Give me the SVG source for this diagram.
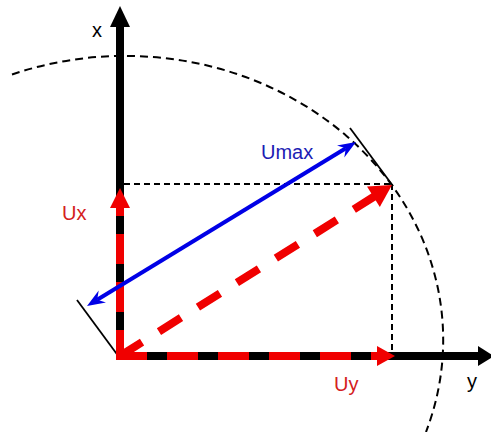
<svg xmlns="http://www.w3.org/2000/svg" width="491" height="432" viewBox="0 0 491 432">
<style>
.guide{fill:none;stroke:#000;stroke-width:2;stroke-dasharray:6 4}
.circle{fill:none;stroke:#000;stroke-width:2;stroke-dasharray:8 5}
.tan{fill:none;stroke:#000;stroke-width:1.8}
.axis{fill:none;stroke:#000;stroke-width:8}
.red{fill:none;stroke:#f00000;stroke-width:8}
.blue{fill:none;stroke:#0000e6;stroke-width:4}
.lbl{font-family:"Liberation Sans",Arial,sans-serif;font-size:20px}
</style>
<rect width="491" height="432" fill="#fff"/>
<g id="connectors">
  <g id="circle-arc">
    <path class="circle" d="M12,74.5 A318,284 0 0 1 426,432"/>
  </g>
  <g id="projections">
    <line class="guide" x1="124" y1="184" x2="392" y2="184"/>
    <line class="guide" x1="392" y1="184" x2="392" y2="352"/>
  </g>
  <g id="tangents">
    <line class="tan" x1="77" y1="300" x2="119" y2="357"/>
    <line class="tan" x1="350" y1="128" x2="393" y2="186"/>
  </g>
  <g id="axis-x">
    <line class="axis" x1="120" y1="360" x2="120" y2="25"/>
    <polygon points="120,6 130,27 110,27" fill="#000"/>
  </g>
  <g id="axis-y">
    <line class="axis" x1="116" y1="356" x2="480" y2="356"/>
    <polygon points="494,356 478,346 478,366" fill="#000"/>
  </g>
  <g id="vec-ux">
    <line class="red" x1="120" y1="360" x2="120" y2="207" stroke-dasharray="30 18"/>
    <polygon points="120,188 130,208 110,208" fill="#f00000"/>
  </g>
  <g id="vec-uy">
    <line class="red" x1="116" y1="356" x2="378" y2="356" stroke-dasharray="31 20"/>
    <polygon points="395,356 377,346 377,366" fill="#f00000"/>
  </g>
  <g id="vec-u">
    <line class="red" x1="120" y1="356" x2="375" y2="196" stroke-dasharray="26 20"/>
    <polygon points="392,185 379.8,206.9 367,186.5" fill="#f00000"/>
  </g>
  <g id="vec-umax">
    <line class="blue" x1="97.2" y1="299.7" x2="345.8" y2="148.3"/>
    <polygon points="356,142 344.3,157.4 345.8,148.3 337,145.4" fill="#0000e6"/>
    <polygon points="87,306 98.7,290.6 97.2,299.7 106,302.6" fill="#0000e6"/>
  </g>
</g>
<g id="label-x"><text class="lbl" x="92" y="37" fill="#000">x</text></g>
<g id="label-y"><text class="lbl" x="467" y="388" fill="#000">y</text></g>
<g id="label-ux"><text class="lbl" x="62" y="220" fill="#d42020">Ux</text></g>
<g id="label-uy"><text class="lbl" x="334" y="391" fill="#d42020">Uy</text></g>
<g id="label-umax"><text class="lbl" x="261" y="159" fill="#1c1cb4">Umax</text></g>
</svg>
